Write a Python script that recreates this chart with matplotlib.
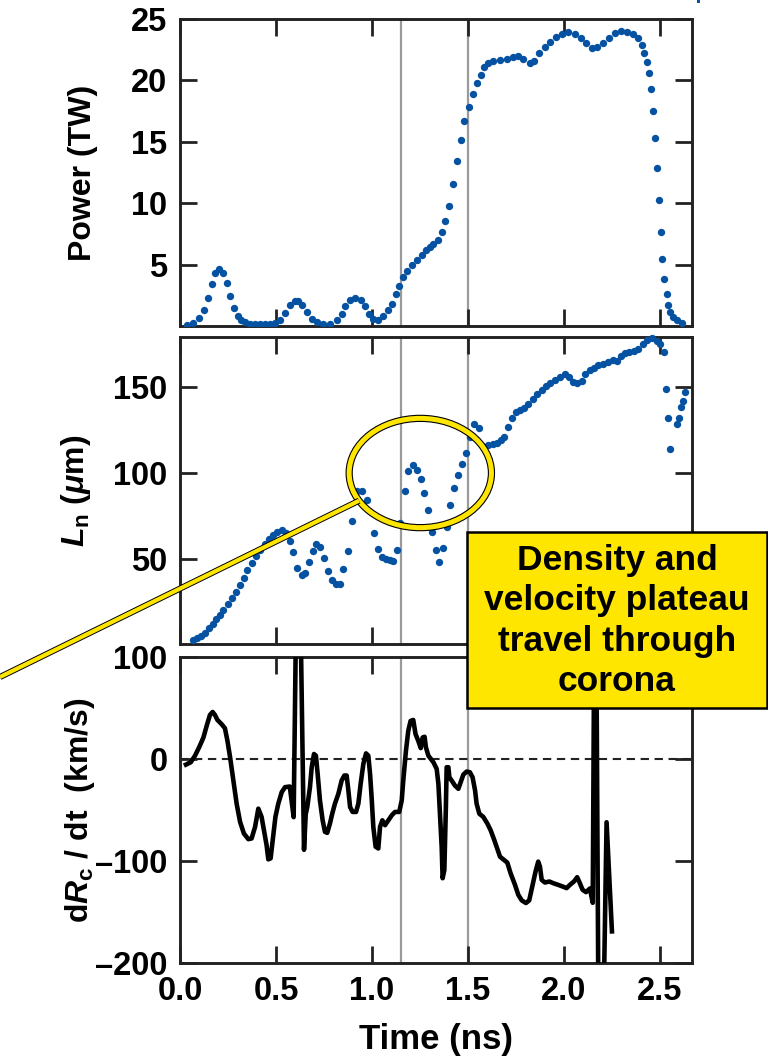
import matplotlib
matplotlib.use("Agg")
import matplotlib.pyplot as plt
from matplotlib.patches import Ellipse, Rectangle

plt.rcParams["font.family"] = ["Liberation Sans", "DejaVu Sans"]
plt.rcParams["font.weight"] = "bold"
plt.rcParams["axes.labelweight"] = "bold"
plt.rcParams["mathtext.fontset"] = "custom"
plt.rcParams["mathtext.rm"] = "Liberation Sans:bold"
plt.rcParams["mathtext.it"] = "Liberation Sans:italic:bold"
plt.rcParams["mathtext.bf"] = "Liberation Sans:bold"

# ---------------- data ----------------
# Laser power (TW)
power_t = [0.035, 0.070, 0.101, 0.125, 0.144, 0.165, 0.182, 0.205, 0.222, 0.243,
           0.260, 0.281, 0.302, 0.316, 0.339, 0.365, 0.391, 0.417, 0.443, 0.469,
           0.495, 0.521, 0.547, 0.573, 0.599, 0.616, 0.637, 0.660, 0.686, 0.712,
           0.747, 0.781, 0.816, 0.842, 0.859, 0.886, 0.912, 0.941, 0.964, 0.986,
           1.007, 1.033, 1.059, 1.085, 1.103, 1.123, 1.142, 1.163, 1.184, 1.207,
           1.233, 1.259, 1.281, 1.302, 1.320, 1.342, 1.363, 1.382, 1.403, 1.424,
           1.441, 1.462, 1.479, 1.507, 1.524, 1.545, 1.566, 1.584, 1.606, 1.632,
           1.667, 1.701, 1.736, 1.762, 1.788, 1.823, 1.844, 1.872, 1.901, 1.927,
           1.958, 1.988, 2.023, 2.057, 2.087, 2.115, 2.144, 2.170, 2.205, 2.236,
           2.266, 2.295, 2.326, 2.361, 2.387, 2.405, 2.417, 2.431, 2.445, 2.455,
           2.465, 2.476, 2.486, 2.495, 2.504, 2.512, 2.523, 2.535, 2.544, 2.552,
           2.570, 2.587, 2.613]
power = [0.05, 0.24, 0.68, 1.33, 2.31, 3.42, 4.32, 4.67, 4.35, 3.51,
         2.45, 1.49, 0.84, 0.46, 0.30, 0.19, 0.16, 0.16, 0.16, 0.16,
         0.24, 0.46, 1.06, 1.68, 2.04, 2.04, 1.68, 1.14, 0.60, 0.30,
         0.14, 0.19, 0.46, 1.01, 1.60, 2.09, 2.31, 2.09, 1.60, 1.01,
         0.60, 0.52, 0.79, 1.28, 1.82, 2.58, 3.29, 3.99, 4.48, 4.95,
         5.41, 5.82, 6.17, 6.44, 6.71, 7.04, 7.66, 8.56, 9.81, 11.55,
         13.40, 15.11, 16.66, 17.85, 18.89, 19.76, 20.46, 21.06, 21.44, 21.60,
         21.66, 21.71, 21.93, 21.98, 21.71, 21.44, 21.60, 22.20, 22.74, 23.15,
         23.56, 23.78, 23.97, 23.78, 23.42, 23.02, 22.66, 22.74, 23.07, 23.42,
         23.83, 24.05, 23.97, 23.78, 23.42, 22.88, 22.20, 21.52, 20.63, 19.27,
         17.53, 15.35, 12.85, 10.24, 7.69, 5.49, 3.80, 2.64, 1.68, 1.14,
         0.73, 0.46, 0.27]

# Density scale length L_n (um)
ln_t = [0.066, 0.087, 0.108, 0.130, 0.153, 0.170, 0.188, 0.208, 0.226, 0.252,
        0.271, 0.292, 0.313, 0.333, 0.351, 0.373, 0.396, 0.417, 0.443, 0.465,
        0.486, 0.507, 0.530, 0.552, 0.573, 0.590, 0.611, 0.634, 0.651, 0.672,
        0.691, 0.708, 0.729, 0.750, 0.771, 0.790, 0.813, 0.833, 0.851, 0.873,
        0.894, 0.920, 0.946, 0.972, 1.011, 1.031, 1.050, 1.071, 1.094, 1.111,
        1.129, 1.146, 1.172, 1.188, 1.212, 1.233, 1.254, 1.271, 1.290, 1.311,
        1.332, 1.351, 1.368, 1.389, 1.406, 1.427, 1.448, 1.469, 1.490, 1.511,
        1.531, 1.556, 1.583, 1.606, 1.629, 1.649, 1.670, 1.689, 1.710, 1.728,
        1.750, 1.771, 1.792, 1.814, 1.837, 1.858, 1.884, 1.906, 1.927, 1.953,
        1.979, 2.005, 2.028, 2.049, 2.070, 2.092, 2.110, 2.136, 2.156, 2.179,
        2.205, 2.231, 2.257, 2.278, 2.295, 2.318, 2.340, 2.365, 2.387, 2.410,
        2.434, 2.458, 2.483, 2.500, 2.521, 2.531, 2.542, 2.552, 2.590, 2.599,
        2.609, 2.618, 2.632]
ln = [3.1, 4.3, 5.6, 7.6, 10.1, 12.4, 15.3, 17.8, 20.5, 24.4,
      27.9, 31.2, 35.3, 39.5, 43.8, 47.9, 52.1, 55.4, 58.9, 61.8,
      64.3, 66.1, 67.1, 65.1, 60.9, 54.1, 45.0, 41.1, 41.9, 48.6,
      55.0, 58.9, 57.0, 50.6, 43.4, 38.0, 36.0, 35.7, 44.2, 55.0,
      72.1, 89.9, 89.9, 84.5, 65.1, 56.2, 51.5, 50.4, 49.8, 49.2,
      55.4, 70.9, 89.9, 101.2, 104.7, 101.9, 96.5, 88.6, 78.7, 65.9,
      55.6, 48.6, 56.4, 68.6, 81.8, 91.5, 99.2, 105.4, 111.6, 120.9,
      128.3, 126.0, 115.1, 116.1, 117.1, 117.8, 119.0, 121.3, 126.7, 131.8,
      135.3, 136.4, 137.6, 140.3, 143.2, 146.1, 148.4, 150.4, 152.3, 154.3,
      155.8, 157.8, 155.8, 152.9, 152.3, 153.5, 157.8, 160.1, 161.2, 162.8,
      163.6, 164.5, 165.5, 165.1, 167.8, 169.8, 170.3, 170.7, 171.9, 174.8,
      177.5, 178.5, 176.7, 175.2, 170.2, 148.8, 132.2, 113.8, 128.7, 132.2,
      138.4, 141.7, 147.1]

# Critical-surface velocity dR_c/dt (km/s)
vel_t = [0.031, 0.056, 0.078, 0.101, 0.122, 0.139, 0.156, 0.170, 0.182, 0.195,
         0.217, 0.234, 0.247, 0.261, 0.278, 0.295, 0.313, 0.333, 0.356, 0.373,
         0.391, 0.408, 0.425, 0.439, 0.451, 0.460, 0.472, 0.483, 0.497, 0.512,
         0.530, 0.547, 0.572, 0.592, 0.615, 0.646, 0.655, 0.663, 0.677, 0.686,
         0.698, 0.708, 0.717, 0.729, 0.743, 0.755, 0.767, 0.781, 0.793, 0.807,
         0.825, 0.842, 0.856, 0.868, 0.877, 0.886, 0.899, 0.917, 0.929, 0.941,
         0.955, 0.969, 0.981, 0.990, 0.998, 1.007, 1.019, 1.033, 1.042, 1.054,
         1.068, 1.085, 1.103, 1.120, 1.142, 1.155, 1.163, 1.177, 1.189, 1.201,
         1.215, 1.227, 1.241, 1.254, 1.264, 1.274, 1.281, 1.294, 1.320, 1.337,
         1.346, 1.354, 1.363, 1.368, 1.377, 1.385, 1.389, 1.398, 1.403, 1.415,
         1.432, 1.450, 1.462, 1.476, 1.493, 1.510, 1.524, 1.537, 1.545, 1.559,
         1.580, 1.601, 1.618, 1.636, 1.649, 1.667, 1.688, 1.705, 1.722, 1.745,
         1.762, 1.780, 1.802, 1.819, 1.837, 1.852, 1.866, 1.875, 1.884, 1.901,
         1.924, 1.945, 1.970, 1.993, 2.014, 2.031, 2.052, 2.069, 2.083, 2.097,
         2.115, 2.135, 2.150, 2.163, 2.180, 2.205, 2.222, 2.250]
vel = [-5.5, -3.2, 3.2, 12.0, 21.1, 32.5, 43.2, 46.1, 43.2, 38.3,
       34.1, 30.2, 17.9, 1.6, -21.1, -43.8, -61.7, -73.1, -78.6, -77.9,
       -66.6, -48.7, -56.8, -71.4, -84.4, -98.4, -97.4, -79.5, -56.8, -43.8,
       -32.5, -27.6, -27.0, -57.0, 300.0, -89.0, -54.0, -47.1, -27.6, -8.1,
       4.9, 3.2, -14.6, -40.6, -60.1, -71.4, -72.4, -63.3, -53.6, -43.8,
       -34.1, -21.1, -16.2, -16.2, -30.8, -47.1, -51.9, -51.9, -43.8, -24.4,
       -4.9, 5.5, 3.2, -14.6, -37.3, -66.6, -86.0, -87.7, -66.6, -60.1,
       -64.9, -60.1, -55.2, -51.9, -51.9, -40.6, -21.1, 8.1, 27.6, 37.3,
       38.3, 24.4, 17.9, 10.7, 21.1, 21.8, 11.4, 3.2, -3.2, -9.7,
       -24.4, -53.6, -86.0, -116.9, -108.8, -47.1, -8.1, -8.1, -17.9, -21.1,
       -26.0, -29.2, -22.7, -15.3, -12.3, -13.0, -17.9, -30.8, -43.8, -53.6,
       -56.8, -63.3, -69.8, -78.9, -86.0, -95.8, -99.0, -101.6, -112.0, -123.4,
       -133.1, -138.6, -141.2, -138.6, -123.4, -110.4, -100.6, -105.5, -118.5, -121.1,
       -120.1, -121.8, -123.4, -125.0, -126.6, -123.4, -120.1, -115.9, -121.8, -128.2,
       -130.5, -127.0, -141.0, 300.0, -260.0, -260.0, -62.0, -169.0]

# times of the two reference markers (ns)
marker_times = [1.15, 1.5]

x_ticks = [0.0, 0.5, 1.0, 1.5, 2.0, 2.5]
x_ticklabels = ["0.0", "0.5", "1.0", "1.5", "2.0", "2.5"]
power_ticks = [5, 10, 15, 20, 25]
ln_ticks = [50, 100, 150]
vel_ticks = [-200, -100, 0, 100]
vel_ticklabels = ["\u2013200", "\u2013100", "0", "100"]

callout_text = "Density and\nvelocity plateau\ntravel through\ncorona"

# ---------------- style ----------------
BLUE = "#0652A2"
YELLOW = "#FFE600"
FRAME = "#222222"
GRID_GRAY = "#9a9a9a"

W, H = 768, 1058
fig = plt.figure(figsize=(W / 100, H / 100), dpi=100)


def px_box(x0, y0, x1, y1):
    return [x0 / W, 1 - y1 / H, (x1 - x0) / W, (y1 - y0) / H]


ax1 = fig.add_axes(px_box(180, 19, 692, 326))
ax2 = fig.add_axes(px_box(180, 337, 692, 644))
ax3 = fig.add_axes(px_box(180, 657, 692, 963))

for ax in (ax1, ax2, ax3):
    ax.set_xlim(0, 2.667)
    ax.set_xticks(x_ticks)
    ax.tick_params(direction="in", length=12, width=2, top=True, right=True,
                   labelsize=23.5, pad=9, color=FRAME, labelcolor="black")
    for sp in ax.spines.values():
        sp.set_linewidth(2.1)
        sp.set_color(FRAME)
    for tm in marker_times:
        ax.axvline(tm, color=GRID_GRAY, lw=1.6, zorder=1)

ax1.tick_params(labelbottom=False)
ax2.tick_params(labelbottom=False)
ax3.set_xticklabels(x_ticklabels)

# Power panel
ax1.plot(power_t, power, "o", ms=5.3, color=BLUE, mec="none", zorder=3)
ax1.set_ylim(0, 25)
ax1.set_yticks(power_ticks)
ax1.set_ylabel("Power (TW)", fontsize=23)

# L_n panel
ax2.plot(ln_t, ln, "o", ms=5.3, color=BLUE, mec="none", zorder=3, clip_on=False)
ax2.set_ylim(1, 179)
ax2.set_yticks(ln_ticks)
ax2.set_ylabel(r"$L_{\mathrm{n}}$ ($\mu$m)", fontsize=23)

# velocity panel
ax3.axhline(0, color=FRAME, lw=1.5, dashes=(4, 2.7), zorder=1.5)
ax3.plot(vel_t, vel, color="black", lw=3.3, zorder=3)
ax3.set_ylim(-200, 100)
ax3.set_yticks(vel_ticks)
ax3.set_yticklabels(vel_ticklabels)
ax3.set_ylabel(r"d$R_{\mathrm{c}}$ / dt  (km/s)", fontsize=23)
ax3.set_xlabel("Time (ns)", fontsize=25)

label_x = {ax1: 83, ax2: 76, ax3: 80}
for ax, xc in label_x.items():
    ax.yaxis.label.set_verticalalignment("center")
    ax.yaxis.set_label_coords((xc - 180) / 512, 0.5)
ax3.xaxis.set_label_coords(0.5, -0.195)

# ---------------- annotation layer (pixel coordinates) ----------------
ov = fig.add_axes([0, 0, 1, 1], zorder=10)
ov.set_xlim(0, W)
ov.set_ylim(H, 0)
ov.axis("off")

cx, cy, ew, eh = 420.3, 473.0, 142.3, 109.3
lead = ([359.0, 0.0], [500.7, 677.0])
ov.plot(*lead, color="black", lw=4.4, solid_capstyle="butt")
ov.add_patch(Ellipse((cx, cy), ew, eh, fill=False, edgecolor="black", lw=5.2))
ov.plot(*lead, color=YELLOW, lw=3.0, solid_capstyle="butt")
ov.add_patch(Ellipse((cx, cy), ew, eh, fill=False, edgecolor=YELLOW, lw=3.6))

ov.add_patch(Rectangle((467, 532), 300, 176, facecolor=YELLOW,
                       edgecolor="black", lw=1.8))
ov.text(617, 621, callout_text, ha="center", va="center", fontsize=25.5,
        fontweight="bold", linespacing=1.27)

# small blue mark at the top edge
ov.add_patch(Rectangle((697, 0), 3, 3, color=BLUE, lw=0))

fig.savefig("out.png", dpi=100)
